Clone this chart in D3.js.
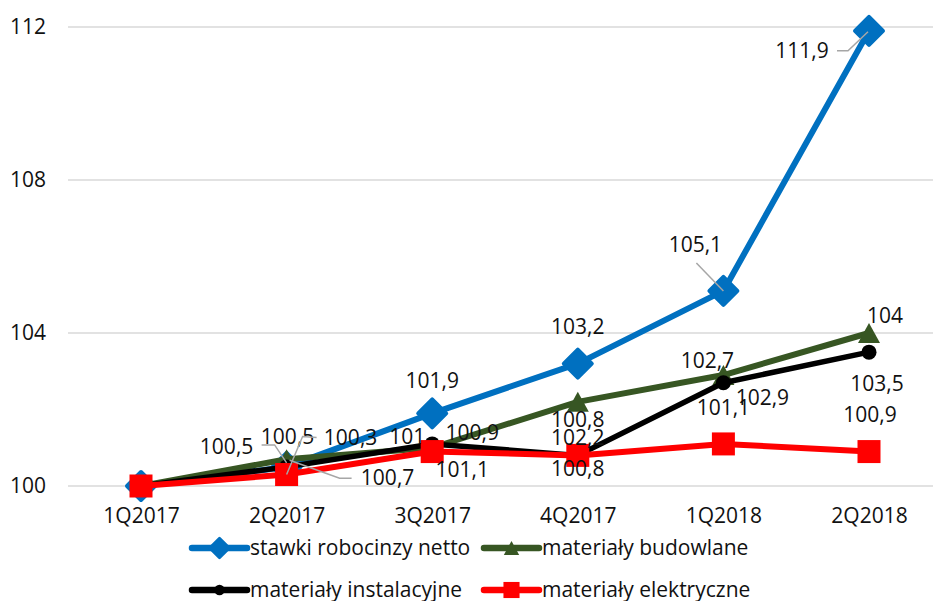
<!DOCTYPE html>
<html>
<head>
<meta charset="utf-8">
<script src="https://cdn.jsdelivr.net/npm/d3@7"></script>
<style>
  html, body { margin: 0; padding: 0; background: #fff; }
  svg { display: block; }
  text { font-family: "Open Sans", "Noto Sans", sans-serif; fill: #111; }
</style>
</head>
<body>
<svg id="chart" width="933" height="601"></svg>
<script>
// ---- data ----
const categories = ["1Q2017", "2Q2017", "3Q2017", "4Q2017", "1Q2018", "2Q2018"];
const seriesNames = ["stawki robocinzy netto", "materiały budowlane", "materiały instalacyjne", "materiały elektryczne"];
const stawki = [100, 100.5, 101.9, 103.2, 105.1, 111.9];
const budowlane = [100, 100.7, 101, 102.2, 102.9, 104];
const instalacyjne = [100, 100.5, 101.1, 100.8, 102.7, 103.5];
const elektryczne = [100, 100.3, 100.9, 100.8, 101.1, 100.9];
const yTicks = [100, 104, 108, 112];

// ---- styling ----
const colors = ["#0070c0", "#375623", "#000000", "#ff0000"];
const markers = ["diamond", "triangle", "circle", "square"];
const lineWidths = [6, 6, 5.5, 6];
// label offsets (dx, dy) relative to each point; null = no label
const labelOffsets = [
  [null, [-60, -20], [0, -33], [0, -37], [-28, -46], [-67, 20]],
  [null, [101, 18], [-25, -11], [0, 36], [39, 22], [16, -18]],
  [null, [1, -30], [30, 26], [0, 13], [-16, -22], [8, 31]],
  [null, [64, -37], [40, -19], [0, -36], [0, -36], [1, -37]]
];
// leader lines (relative polylines from label to point)
const leaders = [
  [null, [[-25, -22], [-12, -22], [0, -4]], null, null, [[-27, -28], [0, 0]], [[-32, 20], [-21, 20], [-1, 1]]],
  [null, [[65, 19], [53, 19], [3, 1]], null, null, null, null],
  [null, null, null, null, null, null],
  [null, [[30, -37], [16, -38], [0, 0]], null, null, null, null]
];

const allSeries = [stawki, budowlane, instalacyjne, elektryczne];

const svg = d3.select("#chart");
const x = d3.scalePoint().domain(categories).range([141, 869]);
const y = d3.scaleLinear().domain([100, 112]).range([486, 27]);

const fmt = v => String(v).replace(".", ",");

// gridlines
svg.append("g").selectAll("line").data(yTicks).join("line")
  .attr("x1", 68).attr("x2", 933)
  .attr("y1", d => y(d)).attr("y2", d => y(d))
  .attr("stroke", "#d9d9d9").attr("stroke-width", 1.5);

// y axis labels
const yAxis = d3.axisLeft(y).tickValues(yTicks).tickSize(0).tickPadding(0).tickFormat(d => d);
const gy = svg.append("g").attr("transform", "translate(46,0)").call(yAxis);
gy.select(".domain").remove();
gy.selectAll("text").attr("font-size", 21).attr("font-family", "Open Sans").attr("fill", "#111");

// x axis labels
const xAxis = d3.axisBottom(x).tickSize(0).tickPadding(0);
const gx = svg.append("g").attr("transform", "translate(0,507)").call(xAxis);
gx.select(".domain").remove();
gx.selectAll("text").attr("font-size", 21).attr("font-family", "Open Sans").attr("fill", "#111").attr("dy", "0.75em");

function drawMarker(g, type, color, scale) {
  const s = scale || 1;
  if (type === "diamond") {
    const r = 14 * s;
    g.append("path").attr("d", `M0,${-r}L${r},0L0,${r}L${-r},0Z`)
      .attr("fill", color).attr("stroke", color).attr("stroke-width", 4 * s).attr("stroke-linejoin", "round");
  } else if (type === "triangle") {
    const w = 11 * s, h = 10 * s;
    g.append("path").attr("d", `M0,${-h}L${w},${h}L${-w},${h}Z`).attr("fill", color);
  } else if (type === "circle") {
    g.append("circle").attr("r", 7.5 * s).attr("fill", color);
  } else if (type === "square") {
    const a = 11.5 * s;
    g.append("rect").attr("x", -a).attr("y", -a).attr("width", 2 * a).attr("height", 2 * a).attr("fill", color);
  }
}

const line = d3.line().x((d, i) => x(categories[i])).y(d => y(d));

allSeries.forEach((data, si) => {
  const g = svg.append("g");
  g.append("path").datum(data).attr("d", line)
    .attr("fill", "none").attr("stroke", colors[si]).attr("stroke-width", lineWidths[si])
    .attr("stroke-linejoin", "round");
  data.forEach((v, i) => {
    const mg = g.append("g").attr("transform", `translate(${x(categories[i])},${y(v)})`);
    drawMarker(mg, markers[si], colors[si], 1);
  });
});

// labels + leaders on top
const lg = svg.append("g");
allSeries.forEach((data, si) => {
  data.forEach((v, i) => {
    const px = x(categories[i]), py = y(v);
    const ld = leaders[si][i];
    if (ld) {
      lg.append("polyline")
        .attr("points", ld.map(p => `${px + p[0]},${py + p[1]}`).join(" "))
        .attr("fill", "none").attr("stroke", "#a6a6a6").attr("stroke-width", 1.5);
    }
    const off = labelOffsets[si][i];
    if (off) {
      lg.append("text").attr("x", px + off[0]).attr("y", py + off[1])
        .attr("text-anchor", "middle").attr("dy", "0.36em")
        .attr("font-size", 21).text(fmt(v));
    }
  });
});

// legend
const legendItems = [
  { x: 192, y: 548 }, { x: 484, y: 548 },
  { x: 192, y: 590 }, { x: 484, y: 590 }
];
const leg = svg.append("g");
seriesNames.forEach((name, si) => {
  const p = legendItems[si];
  const g = leg.append("g").attr("transform", `translate(${p.x},${p.y})`);
  g.append("line").attr("x1", 0).attr("x2", 55).attr("y1", 0).attr("y2", 0)
    .attr("stroke", colors[si]).attr("stroke-width", 6.5).attr("stroke-linecap", "round");
  const mg = g.append("g").attr("transform", "translate(27.5,0)");
  drawMarker(mg, markers[si], colors[si], 0.7);
  g.append("text").attr("x", 58).attr("y", 0).attr("dy", "0.33em")
    .attr("font-size", 21).text(name);
});
</script>
</body>
</html>
